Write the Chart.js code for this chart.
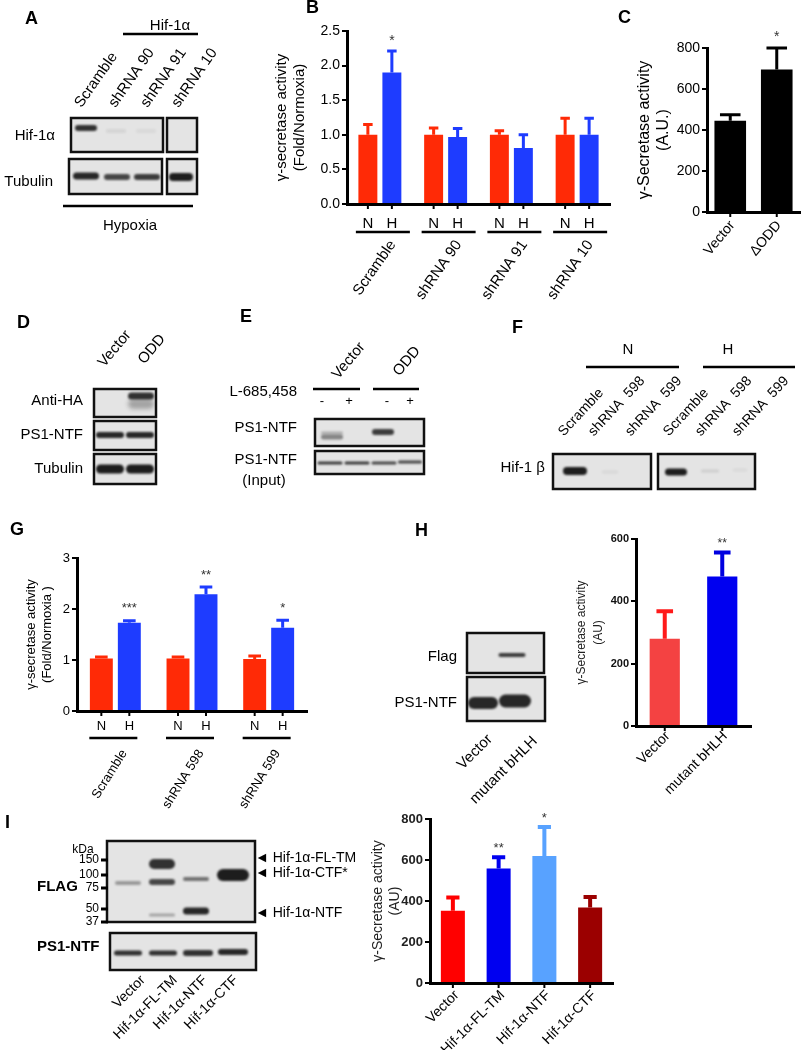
<!DOCTYPE html>
<html>
<head>
<meta charset="utf-8">
<script src="https://cdn.jsdelivr.net/npm/chart.js@4.4.1/dist/chart.umd.min.js"></script>
<style>
  body { margin: 0; background: #fff; }
  #page { position: relative; width: 810px; height: 1050px; overflow: hidden; }
  canvas { position: absolute; }
  #overlay { left: 0; top: 0; }
</style>
</head>
<body>
<div id="page">
  <canvas id="overlay" width="810" height="1050"></canvas>
  <canvas id="chartB" width="345" height="300" style="left:270px;top:0px"></canvas>
  <canvas id="chartC" width="180" height="250" style="left:630px;top:20px"></canvas>
  <canvas id="chartG" width="295" height="280" style="left:20px;top:540px"></canvas>
  <canvas id="chartH" width="190" height="270" style="left:570px;top:525px"></canvas>
  <canvas id="chartI" width="260" height="245" style="left:360px;top:805px"></canvas>
</div>
<script>
// ---- data ----
const groupsB = ['Scramble', 'shRNA 90', 'shRNA 91', 'shRNA 10'];
const normoxiaB = [1.0, 1.0, 1.0, 1.0];
const normoxiaErrB = [0.15, 0.10, 0.06, 0.24];
const hypoxiaB = [1.90, 0.97, 0.81, 1.0];
const hypoxiaErrB = [0.31, 0.12, 0.19, 0.24];
const starsB = ['*', '', '', ''];

const labelsC = ['Vector', 'ΔODD'];
const valuesC = [445, 695];
const errC = [30, 105];
const starsC = ['', '*'];

const groupsG = ['Scramble', 'shRNA 598', 'shRNA 599'];
const normoxiaG = [1.03, 1.03, 1.02];
const normoxiaErrG = [0.03, 0.03, 0.06];
const hypoxiaG = [1.73, 2.29, 1.63];
const hypoxiaErrG = [0.04, 0.14, 0.15];
const starsG = ['***', '**', '*'];

const labelsH = ['Vector', 'mutant bHLH'];
const valuesH = [280, 480];
const errH = [88, 77];
const starsH = ['', '**'];

const labelsI = ['Vector', 'Hif-1α-FL-TM', 'Hif-1α-NTF', 'Hif-1α-CTF'];
const valuesI = [352, 558, 620, 368];
const errI = [65, 56, 141, 51];
const starsI = ['', '**', '*', ''];

const FONT = '"Liberation Sans", Arial, Helvetica, sans-serif';
const RED = '#ff2a06';
const BLUE = '#1e3cff';

Chart.defaults.font.family = FONT;
Chart.defaults.color = '#000';

// error bars, stars, tick marks and custom x labels
const extras = {
  id: 'extras',
  afterDraw(chart, args, o) {
    const ctx = chart.ctx, ca = chart.chartArea, ys = chart.scales.y;
    const metas = chart.data.datasets.map((d, i) => chart.getDatasetMeta(i));
    const pick = (c, di, j) => Array.isArray(c[di]) ? c[di][j] : c[di];
    ctx.save();
    metas.forEach((meta, di) => {
      const ds = chart.data.datasets[di];
      meta.data.forEach((bar, j) => {
        const topY = ys.getPixelForValue(ds.data[j] + o.errors[di][j]);
        ctx.strokeStyle = pick(o.errColors, di, j);
        ctx.lineWidth = o.errWidth;
        ctx.beginPath();
        ctx.moveTo(bar.x, bar.y);
        ctx.lineTo(bar.x, topY);
        const half = bar.width * o.capRatio / 2;
        ctx.moveTo(bar.x - half, topY);
        ctx.lineTo(bar.x + half, topY);
        ctx.stroke();
        const s = o.stars[di] && o.stars[di][j];
        if (s) {
          ctx.fillStyle = o.starColor || '#333';
          ctx.font = o.starFont + 'px ' + FONT;
          ctx.textAlign = 'center';
          ctx.textBaseline = 'middle';
          ctx.fillText(s, bar.x, topY - o.starGap);
        }
        ctx.strokeStyle = '#000';
        ctx.lineWidth = 2;
        ctx.beginPath();
        ctx.moveTo(bar.x, ca.bottom);
        ctx.lineTo(bar.x, ca.bottom + o.tickLen);
        ctx.stroke();
        if (o.sub) {
          ctx.fillStyle = '#000';
          ctx.font = o.sub.font + 'px ' + FONT;
          ctx.textAlign = 'center';
          ctx.textBaseline = 'middle';
          ctx.fillText(o.sub.texts[di], bar.x, ca.bottom + o.sub.dy);
        }
      });
    });
    chart.data.labels.forEach((lab, j) => {
      const xs = metas.map(m => m.data[j].x);
      const cx = xs.reduce((a, b) => a + b, 0) / xs.length;
      if (o.under) {
        ctx.strokeStyle = '#000';
        ctx.lineWidth = 2.5;
        ctx.beginPath();
        ctx.moveTo(cx + o.under.dx - o.under.half, ca.bottom + o.under.dy);
        ctx.lineTo(cx + o.under.dx + o.under.half, ca.bottom + o.under.dy);
        ctx.stroke();
      }
      ctx.save();
      ctx.translate(cx + o.group.dx, ca.bottom + o.group.dy);
      ctx.rotate(-o.group.angle * Math.PI / 180);
      ctx.fillStyle = '#000';
      ctx.font = o.group.font + 'px ' + FONT;
      ctx.textAlign = 'right';
      ctx.textBaseline = 'middle';
      ctx.fillText(lab, 0, 0);
      ctx.restore();
    });
    ctx.restore();
  }
};

function barChart(id, o) {
  return new Chart(document.getElementById(id), {
    type: 'bar',
    data: { labels: o.labels, datasets: o.datasets },
    options: {
      responsive: false,
      animation: false,
      devicePixelRatio: 1,
      layout: { padding: o.padding },
      plugins: { legend: { display: false }, tooltip: { enabled: false }, extras: o.extras },
      scales: {
        x: {
          grid: { display: false },
          ticks: { display: false },
          border: { color: '#000', width: 3 },
          afterFit: s => { s.height = 0; }
        },
        y: {
          min: 0,
          max: o.max,
          ticks: { stepSize: o.step, padding: 2, color: o.tickColor || '#000', font: o.tickFont, callback: o.tickCb },
          grid: { drawOnChartArea: false, drawTicks: true, tickLength: 5, color: '#000', lineWidth: 2 },
          border: { color: '#000', width: 3 },
          title: { display: true, text: o.title, font: o.titleFont, color: o.titleColor || '#000', padding: { top: o.titlePad, bottom: 0 } },
          afterFit: s => { s.width = o.yWidth; }
        }
      }
    },
    plugins: [extras]
  });
}

// B
barChart('chartB', {
  labels: groupsB,
  datasets: [
    { data: normoxiaB, backgroundColor: RED, categoryPercentage: 0.73, barPercentage: 0.79 },
    { data: hypoxiaB, backgroundColor: BLUE, categoryPercentage: 0.73, barPercentage: 0.79 }
  ],
  padding: { top: 31, right: 5, bottom: 96, left: 0 },
  max: 2.5, step: 0.5, tickCb: v => v.toFixed(1), tickFont: { size: 14 },
  title: ['γ-secretase activity', '(Fold/Normoxia)'], titleFont: { size: 15 }, titlePad: 3,
  yWidth: 77,
  extras: {
    errors: [normoxiaErrB, hypoxiaErrB], errColors: [RED, BLUE], errWidth: 3, capRatio: 0.5,
    stars: [null, starsB], starGap: 10, starFont: 14, tickLen: 5,
    sub: { texts: ['N', 'H'], dy: 20, font: 15 },
    under: { dy: 28, half: 27, dx: 3 },
    group: { dx: 13, dy: 38, angle: 55, font: 15 }
  }
});

// C
barChart('chartC', {
  labels: labelsC,
  datasets: [{ data: valuesC, backgroundColor: '#000', categoryPercentage: 0.8, barPercentage: 0.85 }],
  padding: { top: 28, right: 10, bottom: 58, left: 0 },
  max: 800, step: 200, tickFont: { size: 14 },
  title: ['γ-Secretase activity', '(A.U.)'], titleFont: { size: 16 }, titlePad: 5,
  yWidth: 77,
  extras: {
    errors: [errC], errColors: ['#000'], errWidth: 3, capRatio: 0.65,
    stars: [starsC], starGap: 11, starFont: 14, tickLen: 5,
    group: { dx: 2, dy: 11, angle: 50, font: 14 }
  }
});

// G
barChart('chartG', {
  labels: groupsG,
  datasets: [
    { data: normoxiaG, backgroundColor: RED, categoryPercentage: 0.73, barPercentage: 0.82 },
    { data: hypoxiaG, backgroundColor: BLUE, categoryPercentage: 0.73, barPercentage: 0.82 }
  ],
  padding: { top: 18, right: 8, bottom: 109, left: 0 },
  max: 3, step: 1, tickFont: { size: 13 },
  title: ['γ-secretase activity', '(Fold/Normoxia )'], titleFont: { size: 13 }, titlePad: 4,
  yWidth: 57,
  extras: {
    errors: [normoxiaErrG, hypoxiaErrG], errColors: [RED, BLUE], errWidth: 3, capRatio: 0.55,
    stars: [null, starsG], starGap: 12, starFont: 13, tickLen: 5,
    sub: { texts: ['N', 'H'], dy: 15, font: 13 },
    under: { dy: 27, half: 24, dx: -2 },
    group: { dx: 9, dy: 40, angle: 58, font: 13 }
  }
});

// H
barChart('chartH', {
  labels: labelsH,
  datasets: [{ data: valuesH, backgroundColor: ['#f44242', '#0000f0'], categoryPercentage: 0.75, barPercentage: 0.7 }],
  padding: { top: 14, right: 9, bottom: 69, left: 0 },
  max: 600, step: 200, tickFont: { size: 11, weight: 'bold' }, tickColor: '#111',
  title: ['γ-Secretase activity', '(AU)'], titleFont: { size: 12, lineHeight: 1.35 }, titlePad: 4, titleColor: '#222',
  yWidth: 66,
  extras: {
    errors: [errH], errColors: [['#ff1a1a', '#0000e0']], errWidth: 4, capRatio: 0.55,
    stars: [starsH], starGap: 9, starFont: 12, tickLen: 5,
    group: { dx: 3, dy: 8, angle: 45, font: 14 }
  }
});

// I
const colorsI = ['#ff0000', '#0000f0', '#58a2ff', '#9b0000'];
barChart('chartI', {
  labels: labelsI,
  datasets: [{ data: valuesI, backgroundColor: colorsI, categoryPercentage: 0.75, barPercentage: 0.7 }],
  padding: { top: 14, right: 7, bottom: 67, left: 0 },
  max: 800, step: 200, tickFont: { size: 13, weight: 'bold' }, tickColor: '#222',
  title: ['γ-Secretase activity', '(AU)'], titleFont: { size: 14 }, titlePad: 10, titleColor: '#222',
  yWidth: 70,
  extras: {
    errors: [errI], errColors: [colorsI], errWidth: 4, capRatio: 0.55,
    stars: [starsI], starGap: 9, starFont: 13, tickLen: 5,
    group: { dx: 4, dy: 10, angle: 45, font: 14 }
  }
});

// ---- blots and static labels ----
const g = document.getElementById('overlay').getContext('2d');

function T(s, x, y, size, align, rot, bold, color) {
  g.save();
  g.font = (bold ? 'bold ' : '') + size + 'px ' + FONT;
  g.fillStyle = color || '#000';
  g.textAlign = align || 'left';
  g.textBaseline = 'middle';
  g.translate(x, y);
  if (rot) g.rotate(-rot * Math.PI / 180);
  g.fillText(s, 0, 0);
  g.restore();
}
function L(x1, y1, x2, y2, w) {
  g.save();
  g.strokeStyle = '#000';
  g.lineWidth = w || 2.5;
  g.beginPath();
  g.moveTo(x1, y1);
  g.lineTo(x2, y2);
  g.stroke();
  g.restore();
}
function blot(x, y, w, h, bands) {
  g.save();
  g.fillStyle = '#e4e4e4';
  g.fillRect(x, y, w, h);
  g.beginPath();
  g.rect(x, y, w, h);
  g.clip();
  bands.forEach(([cx, cy, bw, bh, a, blur]) => {
    g.filter = 'blur(' + (blur || 1.2) + 'px)';
    g.fillStyle = 'rgba(18,18,18,' + a + ')';
    g.beginPath();
    g.roundRect(cx - bw / 2, cy - bh / 2, bw, bh, bh / 2);
    g.fill();
  });
  g.restore();
  g.save();
  g.strokeStyle = '#111';
  g.lineWidth = 2.5;
  g.strokeRect(x, y, w, h);
  g.restore();
}

// panel letters
T('A', 25, 19, 18, 'left', 0, true);
T('B', 306, 8, 18, 'left', 0, true);
T('C', 618, 18, 18, 'left', 0, true);
T('D', 17, 323, 18, 'left', 0, true);
T('E', 240, 317, 18, 'left', 0, true);
T('F', 512, 328, 18, 'left', 0, true);
T('G', 10, 530, 18, 'left', 0, true);
T('H', 415, 531, 18, 'left', 0, true);
T('I', 5, 823, 18, 'left', 0, true);

// A
T('Hif-1α', 170, 26, 15, 'center');
L(123, 34, 198, 34);
T('Scramble', 78, 106, 15, 'left', 55);
T('shRNA 90', 112, 106, 15, 'left', 55);
T('shRNA 91', 144, 106, 15, 'left', 55);
T('shRNA 10', 175, 106, 15, 'left', 55);
blot(71, 118, 92, 34, [[86, 128, 22, 6, 0.85], [116, 131, 20, 4, 0.07], [146, 131, 20, 4, 0.05]]);
blot(167, 118, 30, 34, []);
blot(69, 159, 93, 35, [[86, 176, 26, 7, 0.9], [117, 177, 26, 6, 0.75], [147, 177, 26, 6, 0.8]]);
blot(167, 159, 30, 35, [[181, 177, 24, 8, 0.95]]);
T('Hif-1α', 55, 136, 15, 'right');
T('Tubulin', 53, 182, 15, 'right');
L(63, 206, 193, 206);
T('Hypoxia', 130, 226, 15, 'center');

// D
T('Vector', 101, 365, 15, 'left', 50);
T('ODD', 141, 362, 15, 'left', 50);
blot(94, 389, 62, 28, [[141, 396, 26, 7, 0.85], [141, 404, 26, 10, 0.3, 2]]);
blot(94, 421, 62, 29, [[110, 435, 28, 6, 0.9], [140, 435, 28, 6, 0.9]]);
blot(94, 454, 62, 30, [[110, 469, 28, 9, 0.95], [140, 469, 28, 9, 0.95]]);
T('Anti-HA', 83, 401, 15, 'right');
T('PS1-NTF', 83, 435, 15, 'right');
T('Tubulin', 83, 469, 15, 'right');

// E
T('Vector', 335, 377, 15, 'left', 50);
T('ODD', 396, 374, 15, 'left', 50);
L(313, 389, 360, 389);
L(373, 389, 419, 389);
T('-', 322, 401, 13, 'center');
T('+', 349, 401, 13, 'center');
T('-', 387, 401, 13, 'center');
T('+', 410, 401, 13, 'center');
blot(315, 419, 109, 27, [[332, 437, 22, 5, 0.45], [332, 433, 22, 3, 0.25], [383, 432, 22, 6, 0.8]]);
blot(315, 451, 109, 23, [[330, 463, 25, 3, 0.8], [357, 463, 25, 3, 0.8], [384, 463, 25, 3, 0.75], [410, 462, 24, 3, 0.75]]);
T('L-685,458', 297, 392, 15, 'right');
T('PS1-NTF', 297, 428, 15, 'right');
T('PS1-NTF', 297, 460, 15, 'right');
T('(Input)', 264, 481, 15, 'center');

// F
T('N', 628, 350, 15, 'center');
L(586, 367, 679, 367);
T('H', 728, 350, 15, 'center');
L(703, 367, 795, 367);
T('Scramble', 561, 434, 14, 'left', 47);
T('shRNA  598', 591, 434, 14, 'left', 47);
T('shRNA  599', 628, 434, 14, 'left', 47);
T('Scramble', 666, 434, 14, 'left', 47);
T('shRNA  598', 698, 434, 14, 'left', 47);
T('shRNA  599', 735, 434, 14, 'left', 47);
blot(553, 454, 98, 35, [[575, 471, 24, 8, 0.95], [610, 472, 16, 3, 0.06]]);
blot(658, 454, 97, 35, [[676, 472, 22, 7, 0.95], [710, 471, 18, 3, 0.1], [740, 470, 14, 3, 0.05]]);
T('Hif-1 β', 545, 468, 15, 'right');

// H blot
blot(467, 633, 77, 40, [[512, 655, 27, 4, 0.8]]);
blot(467, 677, 78, 44, [[483, 703, 30, 12, 0.9], [515, 701, 32, 13, 0.9]]);
T('Flag', 457, 657, 15, 'right');
T('PS1-NTF', 457, 703, 15, 'right');
T('Vector', 490, 737, 15, 'right', 45);
T('mutant bHLH', 535, 739, 15, 'right', 45);

// I blot
blot(107, 841, 148, 81, [
  [128, 883, 26, 4, 0.35],
  [162, 864, 26, 10, 0.85], [162, 882, 26, 6, 0.75], [162, 915, 26, 3, 0.3],
  [196, 879, 26, 4, 0.55], [196, 911, 26, 7, 0.9],
  [233, 875, 32, 12, 0.95]
]);
blot(110, 933, 146, 37, [[128, 953, 28, 5, 0.85], [163, 953, 28, 5, 0.85], [198, 953, 30, 6, 0.85], [233, 952, 30, 6, 0.9]]);
T('kDa', 83, 850, 12, 'center');
[['150', 860], ['100', 875], ['75', 888], ['50', 909], ['37', 922]].forEach(([t, y]) => {
  T(t, 99, y, 12, 'right');
  L(101, y, 108, y, 3);
});
T('FLAG', 37, 887, 15, 'left', 0, true);
T('PS1-NTF', 37, 947, 15, 'left', 0, true);
T('◄ Hif-1α-FL-TM', 255, 858, 14, 'left');
T('◄ Hif-1α-CTF*', 255, 873, 14, 'left');
T('◄ Hif-1α-NTF', 255, 913, 14, 'left');
T('Vector', 143, 978, 14, 'right', 45);
T('Hif-1α-FL-TM', 175, 978, 14, 'right', 45);
T('Hif-1α-NTF', 205, 978, 14, 'right', 45);
T('Hif-1α-CTF', 236, 978, 14, 'right', 45);
</script>
</body>
</html>
